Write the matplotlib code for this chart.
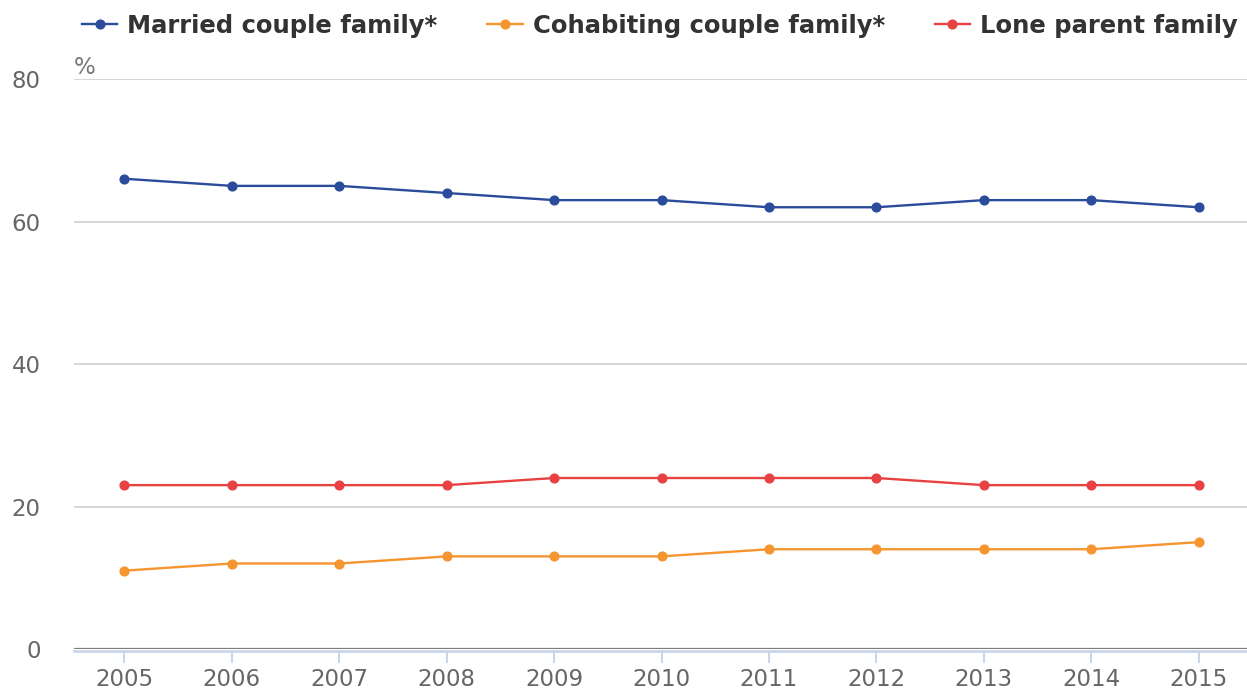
import matplotlib.pyplot as plt
from matplotlib.lines import Line2D

plt.rcParams["font.family"] = ["DejaVu Sans"]

years = [2005, 2006, 2007, 2008, 2009, 2010, 2011, 2012, 2013, 2014, 2015]
married = [66, 65, 65, 64, 63, 63, 62, 62, 63, 63, 62]
cohabiting = [11, 12, 12, 13, 13, 13, 14, 14, 14, 14, 15]
lone_parent = [23, 23, 23, 23, 24, 24, 24, 24, 23, 23, 23]

series = [
    ("Married couple family*", married, "#2b4b9b"),
    ("Cohabiting couple family*", cohabiting, "#f5952f"),
    ("Lone parent family", lone_parent, "#e84142"),
]

fig = plt.figure(figsize=(12.47, 6.92), dpi=100)
ax = fig.add_axes([74 / 1247, 1 - 649 / 692, 1 - 74 / 1247, (649 - 79) / 692])

handles = []
for label, values, color in series:
    ax.plot(years, values, color=color, lw=1.7, marker="o", markersize=6.3,
            zorder=3, clip_on=False)
    handles.append(Line2D([], [], color=color, lw=1.7, marker="o", markersize=6.3))

ax.set_xlim(2004.53, 2015.45)
ax.set_ylim(0, 80)
ax.set_yticks([0, 20, 40, 60, 80])
ax.set_xticks(years)

for s in ["top", "right", "left"]:
    ax.spines[s].set_visible(False)
ax.spines["bottom"].set_color("#ccd6eb")
ax.spines["bottom"].set_linewidth(2)
ax.spines["bottom"].set_position(("outward", 1.2))
ax.axhline(0, color="#7c7c7c", lw=1.6, zorder=2)

ax.grid(axis="y", color="#d6d6d6", lw=1.4)
ax.set_axisbelow(True)

ax.tick_params(axis="y", length=0, pad=24, labelsize=16.5, labelcolor="#666666")
ax.tick_params(axis="x", length=8.6, width=1.5, color="#ccd6eb", pad=4,
               labelsize=16.5, labelcolor="#666666")

ax.text(0.0, 1.0, "%", transform=ax.transAxes, fontsize=16.5, color="#777777",
        ha="left", va="bottom")

fig.legend(handles, [s[0] for s in series], loc="center left",
           bbox_to_anchor=(82 / 1247, 1 - 26 / 692), ncol=3, frameon=False,
           borderpad=0, borderaxespad=0, handlelength=1.45, handletextpad=0.42,
           columnspacing=2.04, prop={"size": 17.5, "weight": "bold"},
           labelcolor="#333333")

fig.savefig("out.png", dpi=100, facecolor="white")
